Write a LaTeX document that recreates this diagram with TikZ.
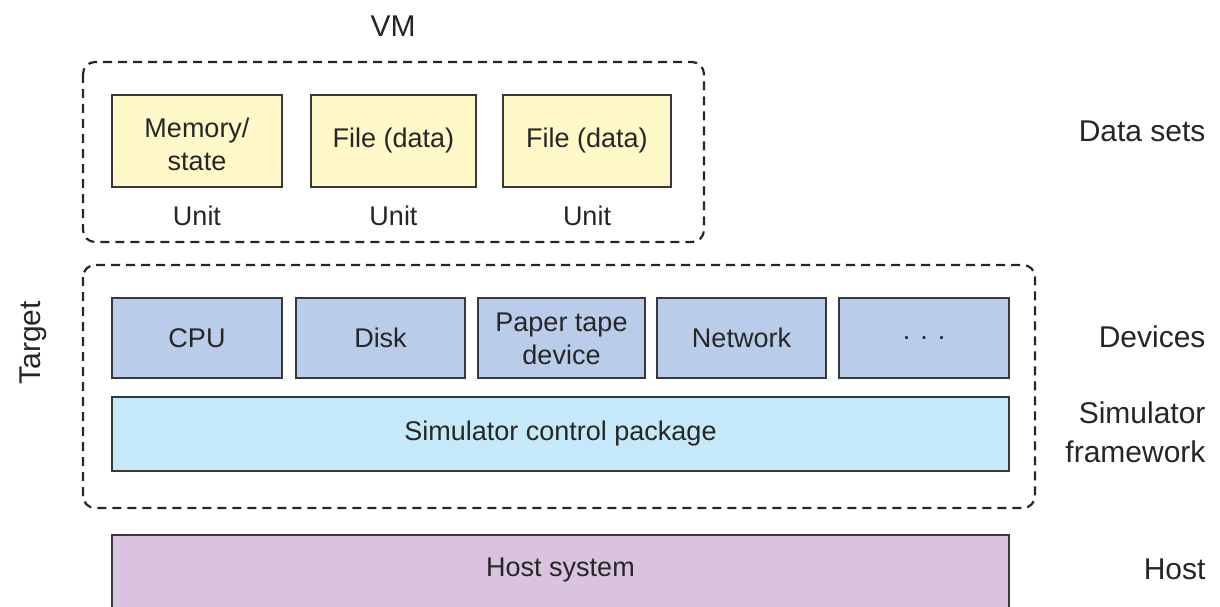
\documentclass[tikz,border=0pt]{standalone}
\usepackage{fontspec}
\setmainfont{Liberation Sans}
\begin{document}
\begin{tikzpicture}[x=1pt,y=-1pt,
  boxtext/.style={font=\fontsize{27}{33}\selectfont, text=black!85},
  sidetext/.style={font=\fontsize{30}{39}\selectfont, text=black!85},
  blk/.style={draw=black!78, line width=2pt, inner sep=0pt, boxtext, align=center},
  grp/.style={draw=black!85, line width=2.2pt, dash pattern=on 9pt off 6pt, rounded corners=12pt}]
\definecolor{yel}{HTML}{FFF8C9}
\definecolor{dev}{HTML}{B9CCE9}
\definecolor{sim}{HTML}{C5E9F8}
\definecolor{hst}{HTML}{D9C3DF}
\clip (0,0) rectangle (1220,607);
\fill[white] (0,0) rectangle (1220,607);
% group frames
\draw[grp] (83,62) rectangle (704,242);
\draw[grp] (83,265) rectangle (1035,508);
\node[sidetext] (vm) at (393,26) {VM};
\node[sidetext, rotate=90] (target) at (33,343) {Target};
% data sets
\node[blk, fill=yel, minimum width=170pt, minimum height=92pt] (mem) at (197,141) {};
\node[boxtext, align=center] (memt) at (197,144) {Memory/\\state};
\node[blk, fill=yel, minimum width=165pt, minimum height=92pt] (f1) at (393.5,141) {File (data)};
\node[blk, fill=yel, minimum width=168pt, minimum height=92pt] (f2) at (587,141) {File (data)};
\node[boxtext] (u1) at (197,216) {Unit};
\node[boxtext] (u2) at (393.5,216) {Unit};
\node[boxtext] (u3) at (587,216) {Unit};
% devices
\node[blk, fill=dev, minimum width=170pt, minimum height=80pt] (cpu) at (197,338) {CPU};
\node[blk, fill=dev, minimum width=169pt, minimum height=80pt] (disk) at (380.5,338) {Disk};
\node[blk, fill=dev, minimum width=167pt, minimum height=80pt] (tape) at (561.5,338) {};
\node[boxtext, align=center] (tapet) at (561.5,339) {Paper tape\\device};
\node[blk, fill=dev, minimum width=169pt, minimum height=80pt] (net) at (741.5,338) {Network};
\node[blk, fill=dev, minimum width=170pt, minimum height=80pt] (more) at (924,338) {. . .};
% simulator
\node[blk, fill=sim, minimum width=897pt, minimum height=74pt] (scp) at (560.5,434) {Simulator control package};
% host
\node[blk, fill=hst, minimum width=897pt, minimum height=84pt] (host) at (560.5,577) {};
\node[boxtext] (hostt) at (560.5,570) {Host system};
% side labels
\node[sidetext, anchor=east] (ds) at (1209,131) {Data sets};
\node[sidetext, anchor=east] (devs) at (1209,337) {Devices};
\node[sidetext, anchor=east, align=right] (simfw) at (1209,432) {Simulator\\framework};
\node[sidetext, anchor=east] (hostl) at (1209,569) {Host};
\end{tikzpicture}
\end{document}
